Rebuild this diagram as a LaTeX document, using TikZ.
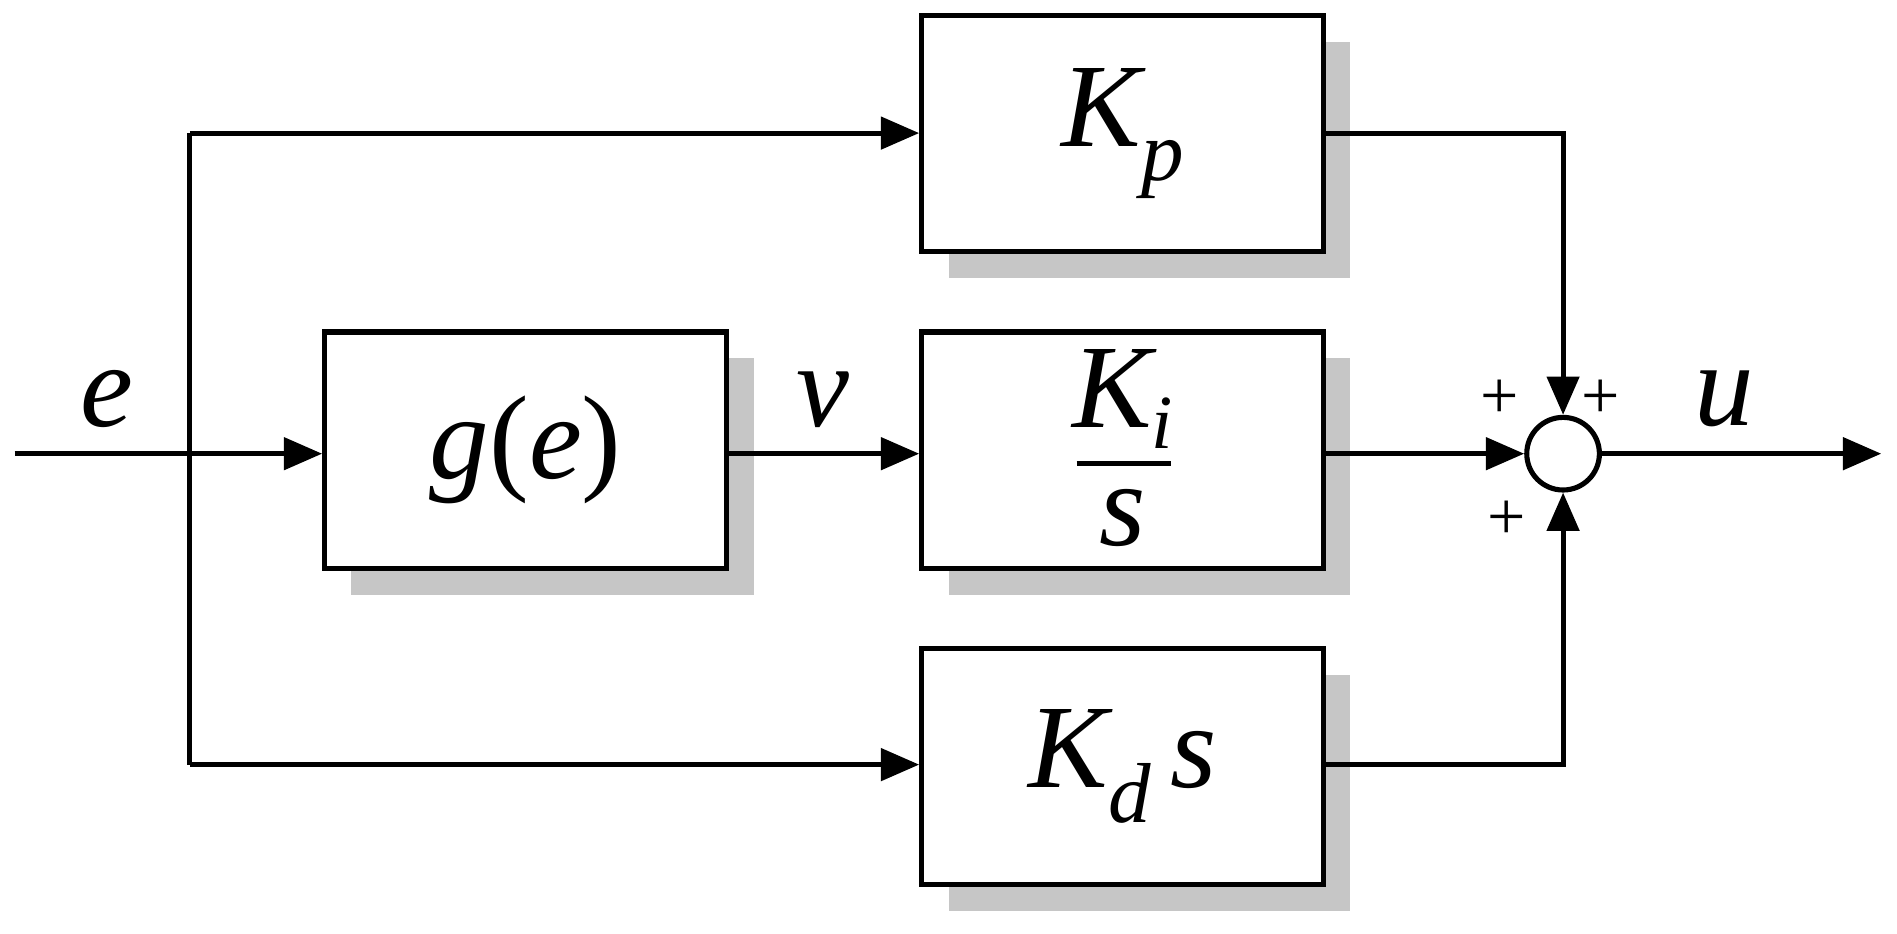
\documentclass[tikz,border=0pt]{standalone}
\usepackage{fontspec}
\setmainfont{Liberation Serif}
\usetikzlibrary{arrows.meta}
\begin{document}
\begin{tikzpicture}[x=0.01cm,y=-0.01cm,
  blk/.style={draw,line width=1.2pt,fill=white,minimum width=3.32cm,minimum height=1.95cm,font=\fontsize{28}{32}\selectfont\itshape},
  shd/.style={fill=gray!45},
  ln/.style={line width=1.2pt},
  arr/.style={ln,-{Triangle[length=9pt,width=7.5pt]}},
  lbl/.style={font=\fontsize{28}{32}\selectfont\itshape},
  pl/.style={font=\fontsize{16}{18}\selectfont}]
\useasboundingbox (0,0) rectangle (1568,772);
\fill[shd] (784,35) rectangle (1116,230);
\fill[shd] (290,296) rectangle (623,492);
\fill[shd] (784,296) rectangle (1116,492);
\fill[shd] (784,558) rectangle (1116,753);
\node[blk] (kp) at (928,110.5) {K\raisebox{-8pt}{\fontsize{20}{24}\selectfont p}};
\node[blk] (g) at (434.5,372) {g\upshape(\itshape e\upshape)};
\node[blk] (ki) at (928,372) {};
\node[lbl] (kin) at (928,330) {K\raisebox{-5pt}{\fontsize{18}{22}\selectfont i}};
\node[lbl] (kis) at (928,428) {s};
\draw[ln] (890,383) -- (968,383);
\node[blk] (kd) at (928,633.5) {K\raisebox{-8pt}{\fontsize{20}{24}\selectfont d}\,s};
\node[draw,circle,ln,minimum size=0.6cm,inner sep=0] (sum) at (1292,375) {};
\coordinate (in) at (12,375);
\coordinate (bt) at (157,110);
\coordinate (bb) at (157,632);
\coordinate (out) at (1555,375);
\draw[arr] (in) -- (g.west|-in);
\draw[ln] (bt) -- (bb);
\draw[arr] (bt) -- (kp.west|-bt);
\draw[arr] (bb) -- (kd.west|-bb);
\draw[arr] (g.east|-in) -- (ki.west|-in);
\draw[arr] (ki.east|-in) -- (sum.west);
\draw[arr] (kp.east|-bt) -| (sum.north);
\draw[arr] (kd.east|-bb) -| (sum.south);
\draw[arr] (sum.east) -- (out);
\node[lbl] (le) at (88,330) {e};
\node[lbl] (lv) at (680,330) {v};
\node[lbl] (lu) at (1425,330) {u};
\node[pl] (p1) at (1240,330) {+};
\node[pl] (p2) at (1323,330) {+};
\node[pl] (p3) at (1245,430) {+};
\end{tikzpicture}
\end{document}
